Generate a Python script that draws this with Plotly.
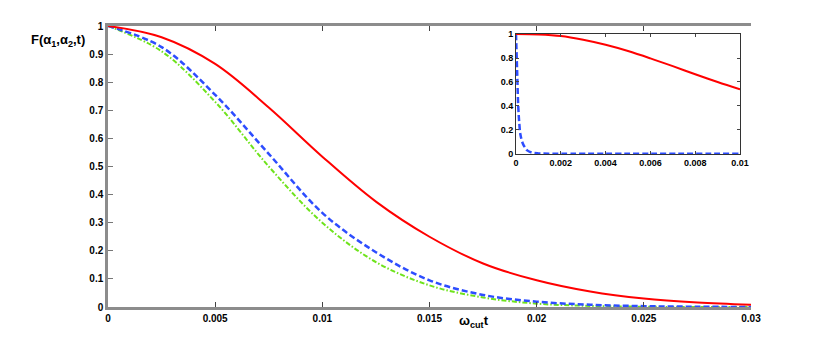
import plotly.graph_objects as go

# main panel data
t_main = [0, 0.0025, 0.005, 0.0075, 0.01, 0.0125, 0.015, 0.0175, 0.02, 0.0225, 0.025, 0.0275, 0.03]
f_red = [1.0, 0.96, 0.865, 0.71, 0.535, 0.375, 0.25, 0.155, 0.095, 0.055, 0.03, 0.016, 0.008]
f_blue = [1.0, 0.925, 0.755, 0.545, 0.335, 0.195, 0.095, 0.043, 0.019, 0.008, 0.003, 0.001, 0.0]
f_green = [1.0, 0.91, 0.73, 0.5, 0.30, 0.16, 0.077, 0.034, 0.012, 0.004, 0.001, 0.0, 0.0]

# inset data
t_inset_red = [0, 0.001, 0.002, 0.003, 0.004, 0.005, 0.006, 0.007, 0.008, 0.009, 0.01]
f_inset_red = [1.0, 0.996, 0.983, 0.952, 0.91, 0.858, 0.797, 0.732, 0.665, 0.60, 0.539]
t_inset_blue = [0, 0.00005, 0.0001, 0.00015, 0.0002, 0.0003, 0.0004, 0.0005, 0.0007, 0.001, 0.002, 0.01]
f_inset_blue = [1.0, 0.7, 0.4, 0.25, 0.16, 0.09, 0.055, 0.03, 0.012, 0.005, 0.003, 0.003]

main_xticks = [0, 0.005, 0.01, 0.015, 0.02, 0.025, 0.03]
main_xlabels = ["0", "0.005", "0.01", "0.015", "0.02", "0.025", "0.03"]
main_yticks = [0, 0.1, 0.2, 0.3, 0.4, 0.5, 0.6, 0.7, 0.8, 0.9, 1]
main_ylabels = ["0", "0.1", "0.2", "0.3", "0.4", "0.5", "0.6", "0.7", "0.8", "0.9", "1"]
inset_xticks = [0, 0.002, 0.004, 0.006, 0.008, 0.01]
inset_xlabels = ["0", "0.002", "0.004", "0.006", "0.008", "0.01"]
inset_yticks = [0, 0.2, 0.4, 0.6, 0.8, 1]
inset_ylabels = ["0", "0.2", "0.4", "0.6", "0.8", "1"]

RED = "#ff0000"
BLUE = "#2d4dff"
GREEN = "#6fe31c"
font_main = dict(family="Liberation Sans, Arial", size=10, color="black", weight="bold")
font_inset = dict(family="Liberation Sans, Arial", size=9, color="black", weight="bold")

fig = go.Figure()
fig.add_trace(go.Scatter(x=t_main, y=f_green, mode="lines", line=dict(color=GREEN, width=2, dash="5px,2px,1.5px,2px", shape="spline")))
fig.add_trace(go.Scatter(x=t_main, y=f_blue, mode="lines", line=dict(color=BLUE, width=2.5, dash="6px,3px", shape="spline")))
fig.add_trace(go.Scatter(x=t_main, y=f_red, mode="lines", line=dict(color=RED, width=2, shape="spline")))

fig.add_trace(go.Scatter(x=t_inset_blue, y=f_inset_blue, mode="lines", xaxis="x2", yaxis="y2",
                         line=dict(color=BLUE, width=2.5, dash="6px,3px", shape="spline")))
fig.add_trace(go.Scatter(x=t_inset_red, y=f_inset_red, mode="lines", xaxis="x2", yaxis="y2",
                         line=dict(color=RED, width=2, shape="spline")))

# the page body adds an 8px offset, so the figure is 8px smaller and margins shifted
fig.update_layout(
    width=822, height=338,
    margin=dict(l=100, r=79, t=18, b=39),
    paper_bgcolor="white", plot_bgcolor="white",
    showlegend=False,
    xaxis=dict(range=[0, 0.03], tickvals=main_xticks, ticktext=main_xlabels, ticks="inside", ticklen=5,
               tickcolor="#444", showline=True, linecolor="#8c8c8c", linewidth=2.5, mirror="ticks",
               showgrid=False, zeroline=False, tickfont=font_main),
    yaxis=dict(range=[0, 1], tickvals=main_yticks, ticktext=main_ylabels, ticks="inside", ticklen=5,
               tickcolor="#777", showline=True, linecolor="#8c8c8c", linewidth=2.5, mirror=False,
               showgrid=False, zeroline=False, tickfont=font_main),
    yaxis3=dict(range=[0, 1], overlaying="y", side="right", tickvals=main_yticks, ticks="inside", ticklen=5,
                tickcolor="#444", showticklabels=False, showline=True, linecolor="#333", linewidth=1,
                showgrid=False, zeroline=False),
    xaxis2=dict(domain=[0.6345, 0.9829], anchor="y2", range=[0, 0.01], tickvals=inset_xticks, ticktext=inset_xlabels,
                ticks="inside", ticklen=3, tickcolor="#444", showline=True, linecolor="#333", linewidth=1,
                mirror="ticks", showgrid=False, zeroline=False, tickfont=font_inset),
    yaxis2=dict(domain=[0.5445, 0.9715], anchor="x2", range=[0, 1], tickvals=inset_yticks, ticktext=inset_ylabels,
                ticks="inside", ticklen=3, tickcolor="#444", showline=True, linecolor="#333", linewidth=1,
                mirror="ticks", showgrid=False, zeroline=False, tickfont=font_inset),
)

fig.add_annotation(text="F(α<sub>1</sub>,α<sub>2</sub>,t)", xref="paper", yref="paper", x=-0.033, y=0.95,
                   xanchor="right", yanchor="middle", showarrow=False,
                   font=dict(family="Liberation Sans, Arial", size=13, color="black", weight="bold"))
fig.add_annotation(text="ω<sub>cut</sub>t", xref="paper", yref="paper", x=0.569, y=-0.053,
                   xanchor="center", yanchor="middle", showarrow=False,
                   font=dict(family="Liberation Sans, Arial", size=13, color="black", weight="bold"))

fig.write_html("out.html")
